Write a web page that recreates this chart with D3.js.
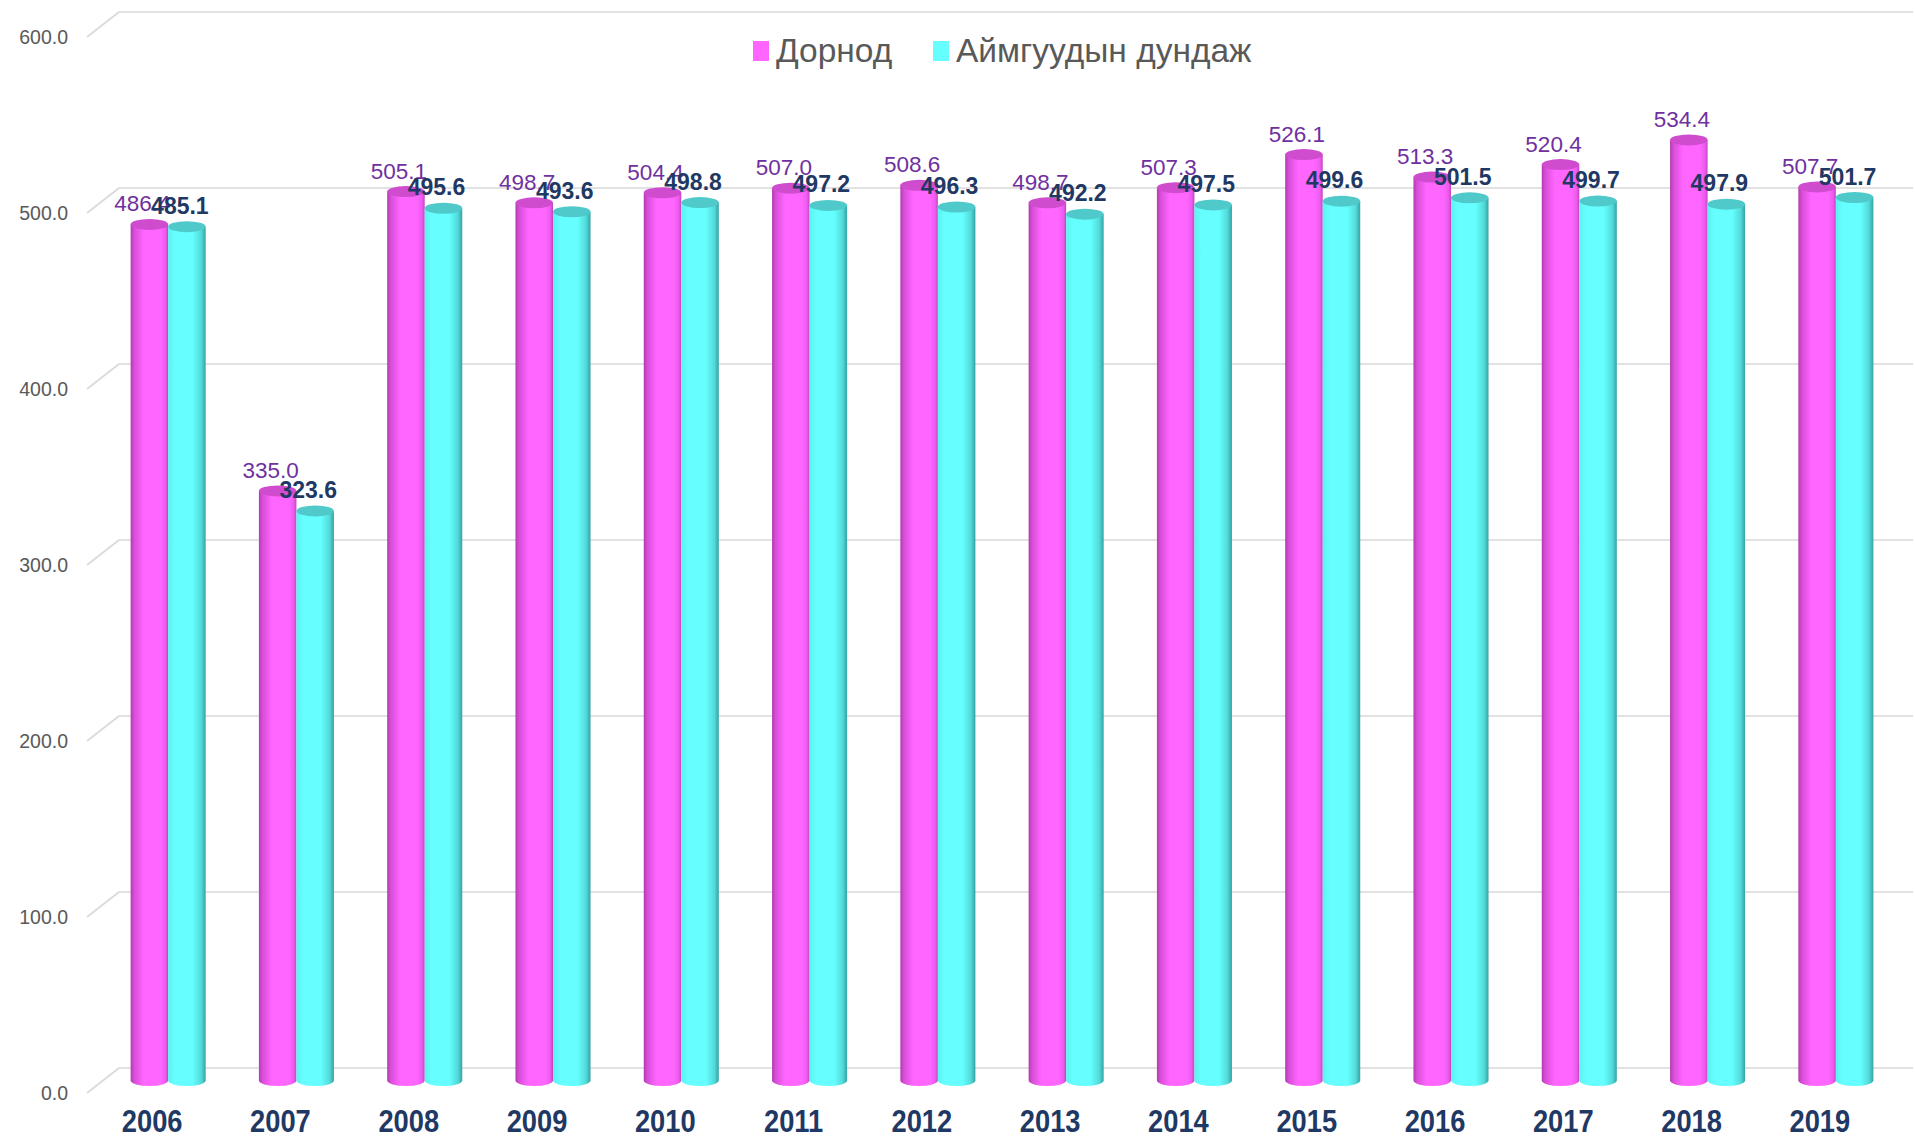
<!DOCTYPE html>
<html>
<head>
<meta charset="utf-8">
<script src="https://cdn.jsdelivr.net/npm/d3@7"></script>
<style>
  body { margin: 0; background: #fff; }
  svg { display: block; }
</style>
</head>
<body>
<div id="chart"></div>
<script>
const years = ["2006", "2007", "2008", "2009", "2010", "2011", "2012", "2013", "2014", "2015", "2016", "2017", "2018", "2019"];
const seriesNames = ["Дорнод", "Аймгуудын дундаж"];
const dornod = [486.4, 335.0, 505.1, 498.7, 504.4, 507.0, 508.6, 498.7, 507.3, 526.1, 513.3, 520.4, 534.4, 507.7];
const average = [485.1, 323.6, 495.6, 493.6, 498.8, 497.2, 496.3, 492.2, 497.5, 499.6, 501.5, 499.7, 497.9, 501.7];
const yTicks = [0, 100, 200, 300, 400, 500, 600];

const width = 1915, height = 1140;
const depthX = 32, depthY = -25;      // front plane -> back wall
const frontLeft = 87, wallRight = 1913;

const svg = d3.select("#chart").append("svg")
    .attr("width", width)
    .attr("height", height);

const defs = svg.append("defs");
function gradient(id, stops) {
    const g = defs.append("linearGradient").attr("id", id)
        .attr("x1", 0).attr("x2", 1).attr("y1", 0).attr("y2", 0);
    stops.forEach(s => g.append("stop").attr("offset", s[0]).attr("stop-color", s[1]));
}
gradient("g-mag", [[0, "#b03cb0"], [0.1, "#d94ed9"], [0.35, "#ff66ff"], [0.8, "#ff66ff"], [0.93, "#ec5aec"], [1, "#c044c0"]]);
gradient("g-cyan", [[0, "#5ef2f2"], [0.2, "#66ffff"], [0.65, "#66ffff"], [0.88, "#52dada"], [1, "#35a3a3"]]);

const colors = {
    body: ["url(#g-mag)", "url(#g-cyan)"],
    top: ["#cf4ccf", "#4fc9c9"],
    legend: ["#ff66ff", "#66ffff"],
    label: ["#7030a0", "#1f3864"]
};

// value scale on the front plane
const yFront = d3.scaleLinear().domain([0, 600]).range([1093, 37]);
const yBack = v => yFront(v) + depthY;
const yMid = v => yFront(v) + depthY / 2;

const x = d3.scaleBand().domain(years).range([104, 1900]).paddingInner(0.415).paddingOuter(0.2075);
const xs = d3.scaleBand().domain(seriesNames).range([0, x.bandwidth()]);

// walls and gridlines
const grid = svg.append("g").attr("stroke", "#d9d9d9").attr("stroke-width", 1.6).attr("fill", "none");
yTicks.forEach(t => {
    grid.append("line")
        .attr("x1", frontLeft).attr("y1", yFront(t))
        .attr("x2", frontLeft + depthX).attr("y2", yBack(t));
    grid.append("line")
        .attr("x1", frontLeft + depthX).attr("y1", yBack(t))
        .attr("x2", wallRight).attr("y2", yBack(t));
});

// axis labels
svg.append("g").selectAll("text").data(yTicks).join("text")
    .attr("x", 68)
    .attr("y", d => yFront(d))
    .attr("dy", "0.36em")
    .attr("text-anchor", "end")
    .attr("font-family", "Liberation Sans, Arial, sans-serif")
    .attr("font-size", 19.5)
    .attr("fill", "#595959")
    .text(d => d3.format(".1f")(d));

// cylinders
const series = [dornod, average];
const rx = xs.bandwidth() / 2, ry = 5.5;
const bars = svg.append("g");
years.forEach((yr, i) => {
    series.forEach((vals, s) => {
        const x0 = x(yr) + xs(seriesNames[s]);
        const x1 = x0 + xs.bandwidth();
        const yt = yMid(vals[i]), yb = yMid(0);
        bars.append("path")
            .attr("d", `M${x0},${yt} L${x0},${yb} A${rx},${ry} 0 0 0 ${x1},${yb} L${x1},${yt} Z`)
            .attr("fill", colors.body[s]);
        bars.append("ellipse")
            .attr("cx", x0 + rx).attr("cy", yt)
            .attr("rx", rx).attr("ry", ry)
            .attr("fill", colors.top[s]);
    });
});

// data labels
series.forEach((vals, s) => {
    svg.append("g").selectAll("text").data(vals).join("text")
        .attr("x", (d, i) => x(years[i]) + xs(seriesNames[s]) + rx - 7)
        .attr("y", d => yMid(d) - 13)
        .attr("text-anchor", "middle")
        .attr("font-family", "Liberation Sans, Arial, sans-serif")
        .attr("font-size", s === 1 ? 23 : 22.5)
        .attr("font-weight", s === 1 ? "bold" : "normal")
        .attr("fill", colors.label[s])
        .text(d => d3.format(".1f")(d));
});

// category labels on the front edge (squeezed a little, like the narrow original)
svg.append("g").selectAll("text").data(years).join("text")
    .attr("transform", d => `translate(${x(d) + x.bandwidth() / 2 - depthX / 2},1132) scale(0.88,1)`)
    .attr("text-anchor", "middle")
    .attr("font-family", "Liberation Sans, Arial, sans-serif")
    .attr("font-size", 31)
    .attr("font-weight", "bold")
    .attr("fill", "#1f3864")
    .text(d => d);

// legend
const legendX = [753, 933];
const legend = svg.append("g");
seriesNames.forEach((name, s) => {
    legend.append("rect")
        .attr("x", legendX[s]).attr("y", 41)
        .attr("width", 16).attr("height", 20)
        .attr("fill", colors.legend[s]);
    legend.append("text")
        .attr("x", legendX[s] + 23).attr("y", 62)
        .attr("font-family", "Liberation Sans, Arial, sans-serif")
        .attr("font-size", 33.5)
        .attr("fill", "#595959")
        .text(name);
});
</script>
</body>
</html>
